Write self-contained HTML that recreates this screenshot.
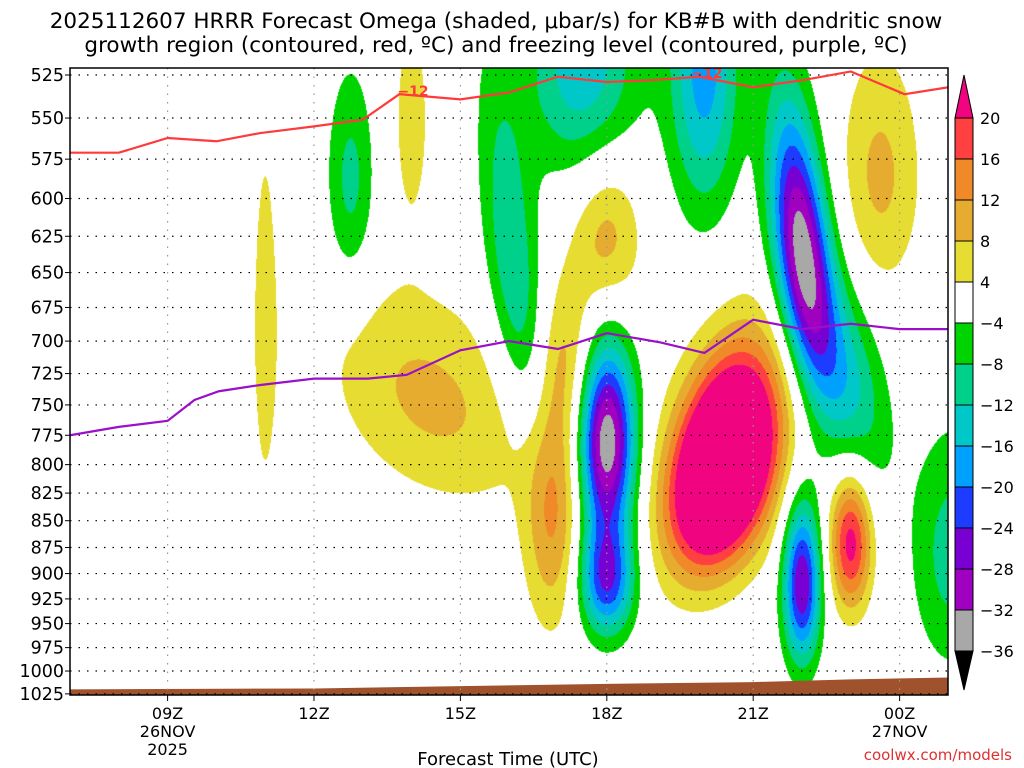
<!DOCTYPE html>
<html><head><meta charset="utf-8">
<style>
body{margin:0;background:#fff;width:1024px;height:768px;overflow:hidden;font-family:"DejaVu Sans",sans-serif}
#wrap{position:relative;width:1024px;height:768px}
canvas,svg{position:absolute;left:0;top:0}
</style></head>
<body>
<div id="wrap">
<canvas id="field" width="1024" height="768"></canvas>
<svg id="svg" width="1024" height="768"></svg>
</div>
<script>
// ---- data ----
const pressureTicks=[525,550,575,600,625,650,675,700,725,750,775,800,825,850,875,900,925,950,975,1000,1025];
const timeTickHours=[9,12,15,18,21,24];
const timeTickLabels=["09Z","12Z","15Z","18Z","21Z","00Z"];
const levels=[-36,-32,-28,-24,-20,-16,-12,-8,-4,4,8,12,16,20];
const levelColors=["#000000","#a8a8a8","#a000c0","#7800d2","#1e3cff","#00a0ff","#00c8c8","#00d18a","#00d400","#ffffff","#e6dc32","#e6ac30","#f08a28","#ff4040","#f0047f"];
// omega blobs: time (h), pressure, amplitude, sigma-time, sigma-pressure, tilt (h per 100hPa)
const blobT  =[20.4,16.9,18.0,17.2,14.4,14.0,11.0,23.6,23.0, 18.0, 18.0, 22.0, 22.9, 22.0, 12.75,16.1, 17.5, 20.0, 25.1];
const blobP  =[800, 840, 625, 710, 745, 550, 690, 585, 870,  780,  905,  635,  730,  910,  590,  650,  520,  520,  880];
const blobA  =[48,  13,  10,  7,   9,   6,   5.5, 9,   22,  -36,  -24,  -34,  -13,  -28,  -9.5, -12,  -15,  -18,  -10];
const blobST =[0.72,0.42,0.5, 0.4, 1.4, 0.3, 0.22,0.6, 0.3, 0.4,  0.4,  0.4,  0.55, 0.27, 0.35, 0.4,  0.8,  0.5,  0.6];
const blobSP =[62,  78,  40,  45,  63,  50,  125, 55,  45,  55,   40,   66,   60,   55,   50,   90,   45,   60,   80];
const blobTilt=[-0.4,0,  0,   0,   0.8, 0,   0,   0,   0,   0,    0,    0.3,  0.4,  0,    0,    0.3,  0,    0,    0];
// dendritic -12C line and freezing level
const redHours=[7,8,9,10,10.9,12,13,13.75,15,16,17,18,18.9,19.9,21,22,23,24.1,25];
const redP=[571,571,562,564,559,555,551,536,539,535,526,529,528,526,532,528,523,536,532];
const purpleHours=[7,8,9,9.55,10.05,10.9,12,13.1,13.9,15,16,17,18,19.1,20,21,22,23,24,25];
const purpleP=[775,768,763,746,739,734,729,729,726,707,700,706,694,701,709,684,691,687,691,691];
const groundHours=[7,12,18,21,23,25];
const groundP=[1020,1019,1014,1012,1009,1007];
// ---- axes ----
const X0=70,X1=948,Y0=68,Y1=695;
const xs=h=>70+(h-7)*48.8;
const ys=p=>75+925*Math.log(p/525);
const hFromX=x=>7+(x-70)/48.8;
const pFromY=y=>525*Math.exp((y-75)/925);

// ---- field ----
const cv=document.getElementById('field'),ctx=cv.getContext('2d');
ctx.fillStyle='#fff';ctx.fillRect(0,0,1024,768);
const img=ctx.createImageData(X1-X0,Y1-Y0);
const rgb=levelColors.map(c=>[parseInt(c.substr(1,2),16),parseInt(c.substr(3,2),16),parseInt(c.substr(5,2),16)]);
for(let j=0;j<Y1-Y0;j++){const p=pFromY(Y0+j+0.5);
 for(let i=0;i<X1-X0;i++){const t=hFromX(X0+i+0.5);let v=0;
  for(let k=0;k<blobT.length;k++){const dt=(t-(blobT[k]+blobTilt[k]*(p-blobP[k])/100))/blobST[k];const dp=(p-blobP[k])/blobSP[k];const e=(dt*dt+dp*dp)/2;if(e<12)v+=blobA[k]*Math.exp(-e);}
  let ci=0;while(ci<levels.length&&v>=levels[ci])ci++;
  const c=rgb[ci],o=(j*(X1-X0)+i)*4;img.data[o]=c[0];img.data[o+1]=c[1];img.data[o+2]=c[2];img.data[o+3]=255;}}
ctx.putImageData(img,X0,Y0);

// ---- svg overlay ----
const svg=document.getElementById('svg'),NS='http://www.w3.org/2000/svg';
function mk(tag,attrs,parent){const e=document.createElementNS(NS,tag);for(const k in attrs)e.setAttribute(k,attrs[k]);(parent||svg).appendChild(e);return e;}
function txt(s,x,y,size,anchor,fill){const e=mk('text',{x:x,y:y,'font-size':size,'text-anchor':anchor||'start',fill:fill||'#000','font-family':'DejaVu Sans, sans-serif'});e.textContent=s;return e;}
// ground
let gpts=groundHours.map((h,i)=>xs(h)+','+ys(groundP[i])).join(' ');
const g=mk('polygon',{points:X0+','+Y1+' '+gpts+' '+X1+','+Y1,fill:'#a0522d'});


// grid
pressureTicks.forEach(p=>{const l=mk('line',{x1:X0,x2:X1,y1:ys(p),y2:ys(p),stroke:'#000','stroke-width':1.2,'stroke-dasharray':'1.5,7'});
 
 
 const t=txt(String(p),64,ys(p)+6,17.5,'end');
 
 
 mk('line',{x1:X0-5,x2:X0,y1:ys(p),y2:ys(p),stroke:'#000'});});
timeTickHours.forEach((h,i)=>{const l=mk('line',{x1:xs(h),x2:xs(h),y1:Y0,y2:Y1,stroke:'#999','stroke-width':1.2,'stroke-dasharray':'1.5,7'});
 
 
 mk('line',{x1:xs(h),x2:xs(h),y1:Y1,y2:Y1+6,stroke:'#000'});
 const t=txt(timeTickLabels[i],xs(h),719,16,'middle');
 
 });
txt('26NOV',xs(9),737,16,'middle');txt('2025',xs(9),755,16,'middle');txt('27NOV',xs(24),737,16,'middle');
// lines
const red=mk('polyline',{points:redHours.map((h,i)=>xs(h)+','+ys(redP[i])).join(' '),fill:'none',stroke:'#ff3a3a','stroke-width':2.2});


const pur=mk('polyline',{points:purpleHours.map((h,i)=>xs(h)+','+ys(purpleP[i])).join(' '),fill:'none',stroke:'#9a10c8','stroke-width':2.2});


const l1=txt('−12',413,96,14,'middle','#ff3a3a');l1.setAttribute('font-weight','bold');
const l2=txt('−12',707,78,14,'middle','#ff3a3a');l2.setAttribute('font-weight','bold');
// frame
mk('rect',{x:X0,y:Y0,width:X1-X0,height:Y1-Y0,fill:'none',stroke:'#000','stroke-width':1.5});
// colorbar
const cbX=955,cbW=18,cbTop=118,cbStep=41;
for(let k=1;k<levelColors.length-1;k++){const idx=levelColors.length-1-k;
 const r=mk('rect',{x:cbX,y:cbTop+(k-1)*cbStep,width:cbW,height:cbStep,fill:levelColors[idx],stroke:'#000','stroke-width':1});
 
 }
const cbBot=cbTop+13*cbStep;
mk('polygon',{points:`${cbX},${cbTop} ${cbX+cbW},${cbTop} ${cbX+cbW/2},75`,fill:levelColors[14],stroke:'#000'});
mk('polygon',{points:`${cbX},${cbBot} ${cbX+cbW},${cbBot} ${cbX+cbW/2},690`,fill:levelColors[0],stroke:'#000'});
[20,16,12,8,4,-4,-8,-12,-16,-20,-24,-28,-32,-36].forEach((v,i)=>{const t=txt(v<0?'−'+(-v):String(v),980,cbTop+i*cbStep+6,16,'start');
 
 });
// titles
const t1=txt('2025112607 HRRR Forecast Omega (shaded, μbar/s) for KB#B with dendritic snow',496,28,21.5,'middle');


const t2=txt('growth region (contoured, red, ºC) and freezing level (contoured, purple, ºC)',496,52,21.5,'middle');


const xt=txt('Forecast Time (UTC)',508,765,18,'middle');


const cr=txt('coolwx.com/models',1012,760,15,'end','#e03030');


</script>
</body></html>
